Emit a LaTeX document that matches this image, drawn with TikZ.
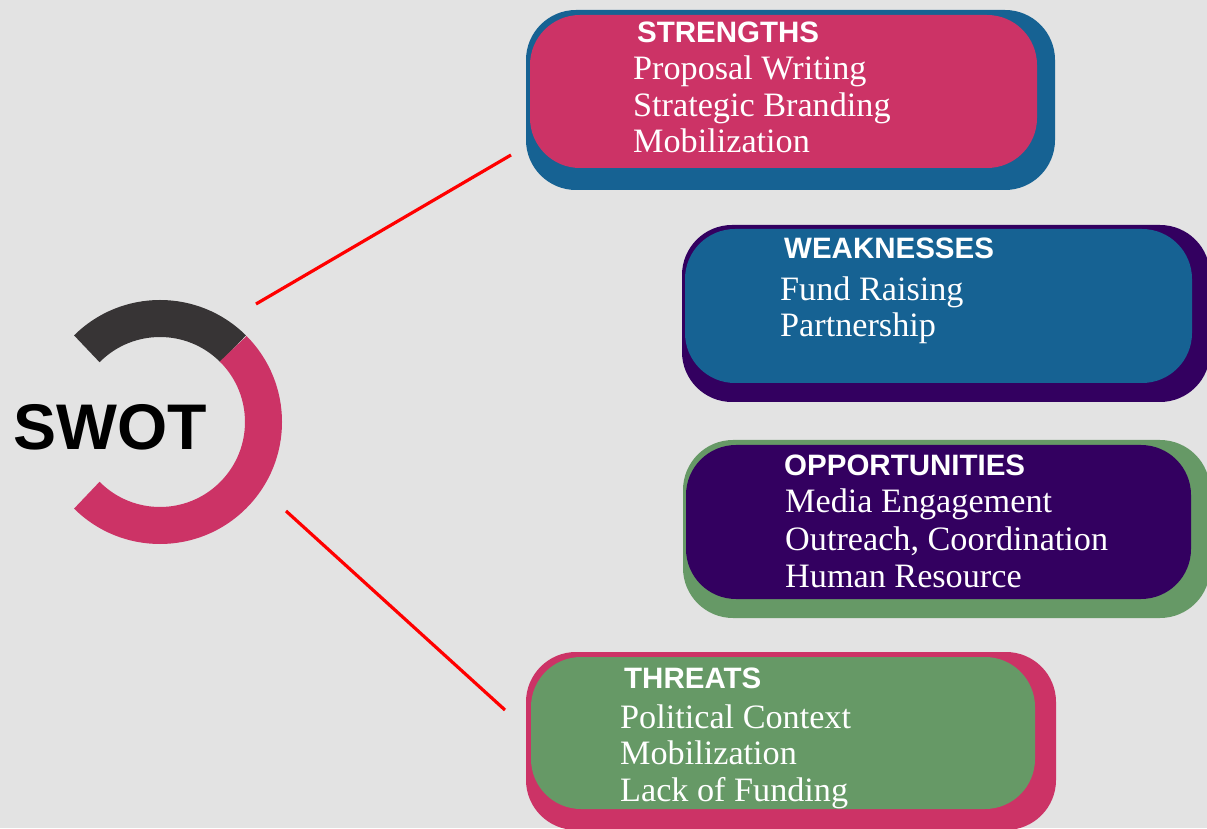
\documentclass[tikz,border=0pt]{standalone}
\usepackage{fontspec}
\setmainfont{Liberation Serif}
\setsansfont{Liberation Sans}
\usepackage{tikz}
\usetikzlibrary{positioning, calc}

\tikzset{
  card/.style={rectangle, rounded corners=50pt, inner sep=0pt},
  cardhead/.style={anchor=base west, inner sep=0pt, text=white,
    font=\sffamily\bfseries\fontsize{29.5}{30}\selectfont},
  carditem/.style={anchor=base west, inner sep=0pt, text=white,
    font=\fontsize{34.2}{36.5}\selectfont},
  link/.style={draw=red, line width=3.2pt}
}

\begin{document}
\begin{tikzpicture}[x=1pt, y=1pt]
            % colours
            \definecolor{bggray}{RGB}{227,227,227}
            \definecolor{ringdark}{RGB}{55,52,53}
            \definecolor{swpink}{RGB}{204,51,102}
            \definecolor{swblue}{RGB}{22,98,147}
            \definecolor{swpurple}{RGB}{51,0,96}
            \definecolor{swgreen}{RGB}{102,153,102}

            % page
            \useasboundingbox (0,0) rectangle (1207,828);
            \fill[bggray] (0,0) rectangle (1207,828);

            % ring
            \coordinate (ringc) at (160,406);
            \draw[ringdark, line width=37pt] (ringc) ++(135:103.5) arc[start angle=135, end angle=45, radius=103.5];
            \draw[swpink, line width=37pt] (ringc) ++(45:103.5) arc[start angle=45, end angle=-135, radius=103.5];
            \node[anchor=base west, inner sep=0pt, font=\sffamily\bfseries\fontsize{64.5}{66}\selectfont] (swot) at (13,378) {SWOT};

            % shadows
            \node[card, fill=swblue, minimum width=529pt, minimum height=180pt] (s-back) at (790.5,728) {};
            \node[card, fill=swpurple, minimum width=528pt, minimum height=177pt] (w-back) at (946,514.5) {};
            \node[card, fill=swgreen, minimum width=527pt, minimum height=178pt] (o-back) at (946.5,299) {};
            \node[card, fill=swpink, minimum width=530pt, minimum height=178pt] (t-back) at (791,87) {};

            % cards
            \node[card, fill=swpink, minimum width=507pt, minimum height=153pt] (strengths) at (783.5,736.5) {};
            \node[card, fill=swblue, minimum width=507pt, minimum height=154pt] (weaknesses) at (938.5,522) {};
            \node[card, fill=swpurple, minimum width=505pt, minimum height=154pt] (opportunities) at (938.5,306) {};
            \node[card, fill=swgreen, minimum width=504pt, minimum height=152pt] (threats) at (783,95) {};

            % strengths
            \node[cardhead] (s-head) at (637,785) {STRENGTHS};
            \node[carditem] (s-1) at (633,748) {Proposal Writing};
            \node[carditem] (s-2) at (633,711.5) {Strategic Branding};
            \node[carditem] (s-3) at (633,675) {Mobilization};

            % weaknesses
            \node[cardhead] (w-head) at (784,569) {WEAKNESSES};
            \node[carditem] (w-1) at (780,527) {Fund Raising};
            \node[carditem] (w-2) at (780,491) {Partnership};

            % opportunities
            \node[cardhead] (o-head) at (784,352) {OPPORTUNITIES};
            \node[carditem] (o-1) at (785,315) {Media Engagement};
            \node[carditem] (o-2) at (785,278) {Outreach, Coordination};
            \node[carditem] (o-3) at (785,241) {Human Resource};

            % threats
            \node[cardhead] (t-head) at (624,140) {THREATS};
            \node[carditem] (t-1) at (620,100) {Political Context};
            \node[carditem] (t-2) at (620,64) {Mobilization};
            \node[carditem] (t-3) at (620,27) {Lack of Funding};

            % links
            \coordinate (s-from) at (256,524);
            \coordinate (s-to) at (511,673);
            \coordinate (t-from) at (286,317);
            \coordinate (t-to) at (505,118);
            \draw[link] (s-from) -- (s-to);
            \draw[link] (t-from) -- (t-to);
\end{tikzpicture}
\end{document}
